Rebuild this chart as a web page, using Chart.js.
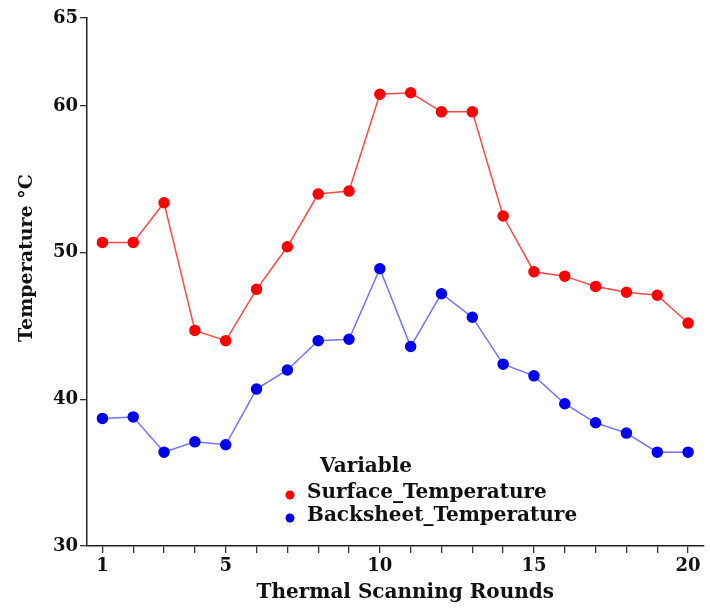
<!DOCTYPE html>
<html>
<head>
<meta charset="utf-8">
<script src="https://cdn.jsdelivr.net/npm/chart.js@4/dist/chart.umd.min.js"></script>
<style>
  html, body { margin: 0; padding: 0; background: #fff; }
  #wrap { width: 710px; height: 610px; }
</style>
</head>
<body>
<div id="wrap"><canvas id="myChart" width="710" height="610"></canvas></div>
<script>
// data
const rounds = [1, 2, 3, 4, 5, 6, 7, 8, 9, 10, 11, 12, 13, 14, 15, 16, 17, 18, 19, 20]
const surfaceTemp = [50.7, 50.7, 53.4, 44.7, 44.0, 47.5, 50.4, 54.0, 54.2, 60.8, 60.9, 59.6, 59.6, 52.5, 48.7, 48.4, 47.7, 47.3, 47.1, 45.2]
const backsheetTemp = [38.7, 38.8, 36.4, 37.1, 36.9, 40.7, 42.0, 44.0, 44.1, 48.9, 43.6, 47.2, 45.6, 42.4, 41.6, 39.7, 38.4, 37.7, 36.4, 36.4]
const xTickLabels = [1, 5, 10, 15, 20]
const yTickValues = [30, 40, 50, 60, 66]
const yTickLabels = ['30', '40', '50', '60', '65']
const seriesNames = ['Surface_Temperature', 'Backsheet_Temperature']
const xTitle = 'Thermal Scanning Rounds'
const yTitle = 'Temperature °C'

const FONT = '"DejaVu Serif", serif'

// build {x,y} points for the linear x scale
function toPoints(vals) {
  return rounds.map((r, i) => ({ x: r, y: vals[i] }))
}

// axis titles + legend inside the plot, placed like the original
const extras = {
  id: 'extras',
  afterDraw(chart) {
    const ctx = chart.ctx
    const a = chart.chartArea
    ctx.save()
    ctx.fillStyle = '#111'
    ctx.textBaseline = 'middle'
    ctx.textAlign = 'center'

    // axis titles
    ctx.font = 'bold 20px ' + FONT
    ctx.fillText(xTitle, (a.left + a.right) / 2 + 10, a.bottom + 47)
    ctx.save()
    ctx.translate(27, (a.top + a.bottom) / 2 - 24)
    ctx.rotate(-Math.PI / 2)
    ctx.font = 'bold 19px ' + FONT
    ctx.fillText(yTitle, 0, 0)
    ctx.restore()

    // legend
    ctx.textAlign = 'left'
    const x0 = a.left + 203
    const y0 = a.top + 449
    ctx.font = 'bold 20px ' + FONT
    ctx.fillText('Variable', x0 + 30, y0)
    const cols = ['#ff0000', '#0000ee']
    for (let i = 0; i < seriesNames.length; i++) {
      const yy = y0 + 26 + i * 23
      ctx.fillStyle = cols[i]
      ctx.beginPath()
      ctx.arc(x0, yy + 2, 4.5, 0, Math.PI * 2)
      ctx.fill()
      ctx.fillStyle = '#111'
      ctx.fillText(seriesNames[i], x0 + 17, yy)
    }
    ctx.restore()
  }
}

var ctx = document.getElementById('myChart').getContext('2d')
var myChart = new Chart(ctx, {
  type: 'line',
  data: {
    datasets: [{
      label: seriesNames[0],
      data: toPoints(surfaceTemp),
      borderColor: '#ff4a4a',
      borderWidth: 1.5,
      pointBackgroundColor: '#ff0000',
      pointBorderColor: '#ff0000',
      pointRadius: 5,
      tension: 0
    }, {
      label: seriesNames[1],
      data: toPoints(backsheetTemp),
      borderColor: '#7373ff',
      borderWidth: 1.5,
      pointBackgroundColor: '#0000ee',
      pointBorderColor: '#0000ee',
      pointRadius: 5,
      tension: 0
    }]
  },
  options: {
    responsive: false,
    animation: false,
    layout: { padding: { top: 18, right: 2, left: 0, bottom: 0 } },
    plugins: {
      legend: { display: false },
      tooltip: { enabled: false }
    },
    scales: {
      x: {
        type: 'linear',
        min: 0.5,
        max: 20.5,
        afterBuildTicks: (s) => { s.ticks = rounds.map(v => ({ value: v })) },
        afterFit: (s) => { s.height = 64 },
        ticks: {
          autoSkip: false,
          maxRotation: 0,
          padding: 3,
          color: '#111',
          font: { family: FONT, size: 18, weight: 'bold' },
          callback: (v) => xTickLabels.includes(v) ? String(v) : ''
        },
        grid: { display: true, drawOnChartArea: false, drawTicks: true, tickLength: 7, color: '#333', lineWidth: 1.3 },
        border: { display: true, color: '#222', width: 1.5 }
      },
      y: {
        min: 30,
        max: 66,
        afterBuildTicks: (s) => { s.ticks = yTickValues.map(v => ({ value: v })) },
        afterFit: (s) => { s.width = 87 },
        ticks: {
          padding: 2,
          color: '#111',
          font: { family: FONT, size: 18, weight: 'bold' },
          callback: (v) => yTickLabels[yTickValues.indexOf(v)]
        },
        grid: { display: true, drawOnChartArea: false, drawTicks: true, tickLength: 7, color: '#333', lineWidth: 1.3 },
        border: { display: true, color: '#222', width: 1.5 }
      }
    }
  },
  plugins: [extras]
})
</script>
</body>
</html>
